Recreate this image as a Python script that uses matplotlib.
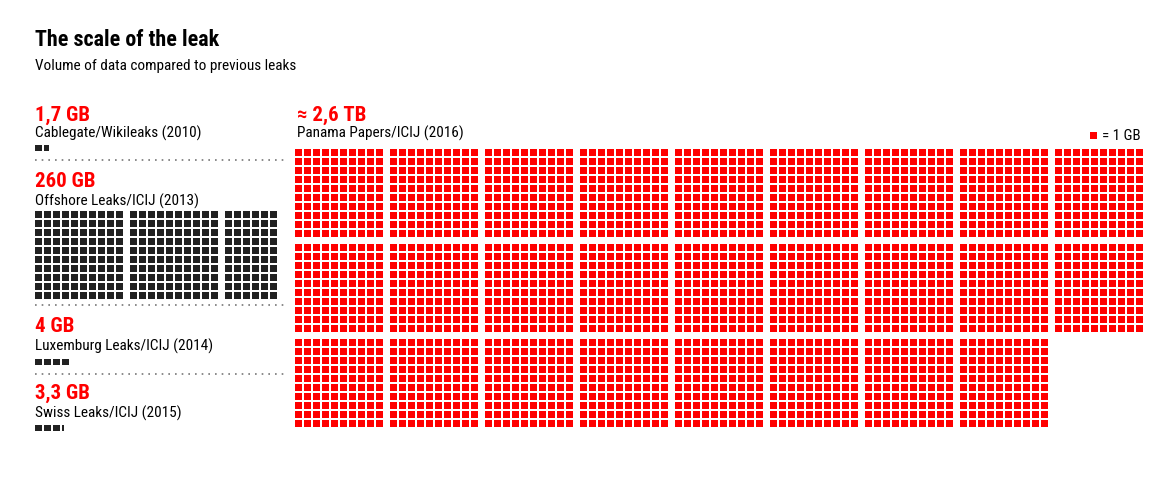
import matplotlib.pyplot as plt
from matplotlib.patches import Rectangle

# Data
leaks = ["Cablegate/Wikileaks (2010)", "Offshore Leaks/ICIJ (2013)",
         "Luxemburg Leaks/ICIJ (2014)", "Swiss Leaks/ICIJ (2015)"]
leak_labels = ["1,7 GB", "260 GB", "4 GB", "3,3 GB"]
leak_gb = [1.7, 260, 4, 3.3]
panama_name = "Panama Papers/ICIJ (2016)"
panama_label = "≈ 2,6 TB"
panama_gb = 2600

RED = "#ff0000"
DARK = "#222222"
FONT = ["Roboto Condensed", "Asap Condensed", "Barlow Semi Condensed", "DejaVu Sans"]

# Layout (pixels)
SQ = 7.2        # square size
STEP = 9.0      # square pitch
BLOCK = 95.0    # block pitch (10x10 squares)


def waffle(ax, value, x0, y0, per_row, color):
    """blocks of 100, each filled column by column"""
    n = int(round(value))
    for i in range(n):
        b, r = divmod(i, 100)
        brow, bcol = divmod(b, per_row)
        col, row = divmod(r, 10)
        x = x0 + bcol * BLOCK + col * STEP
        y = y0 + brow * BLOCK + row * STEP
        ax.add_patch(Rectangle((x, y), SQ, SQ, color=color, lw=0))


def small_row(ax, value, x0, y0, color):
    full = int(value)
    part = value - full
    for i in range(full):
        ax.add_patch(Rectangle((x0 + i * STEP, y0), SQ, 6, color=color, lw=0))
    if part > 0.01:
        ax.add_patch(Rectangle((x0 + full * STEP, y0), SQ * part, 6, color=color, lw=0))


fig = plt.figure(figsize=(11.62, 4.84), dpi=100)
ax = fig.add_axes([0, 0, 1, 1])
ax.set_xlim(0, 1162)
ax.set_ylim(484, 0)
ax.axis("off")

ax.text(35, 46, "The scale of the leak", fontsize=15.8, fontweight="bold",
        family=FONT, color="black", va="baseline")
ax.text(35, 70, "Volume of data compared to previous leaks", fontsize=11,
        family=FONT, color="black", va="baseline")

# left column
value_y = [121, 187, 332, 399]
name_y = [138, 206, 351, 418]
square_y = [145, 211, 359, 425]
for k in range(4):
    ax.text(35, value_y[k], leak_labels[k], fontsize=15, fontweight="bold",
            family=FONT, color=RED, va="baseline")
    ax.text(35, name_y[k], leaks[k], fontsize=11, family=FONT,
            color="black", va="baseline")
    if leak_gb[k] >= 100:
        waffle(ax, leak_gb[k], 35, square_y[k], 3, DARK)
    else:
        small_row(ax, leak_gb[k], 35, square_y[k], DARK)

for y in [160, 305, 374]:
    ax.plot([35, 284], [y, y], color="#777777", lw=1.2, ls=(0, (1, 3)))

# Panama papers
ax.text(297, 121, panama_label, fontsize=15, fontweight="bold",
        family=FONT, color=RED, va="baseline")
ax.text(297, 138, panama_name, fontsize=11, family=FONT,
        color="black", va="baseline")
waffle(ax, panama_gb, 295, 149, 9, RED)

# legend
ax.add_patch(Rectangle((1090, 132), SQ, SQ, color=RED, lw=0))
ax.text(1102, 140, "= 1 GB", fontsize=10.8, family=FONT, color="black",
        va="baseline")

fig.savefig("out.png", dpi=100, facecolor="white")
